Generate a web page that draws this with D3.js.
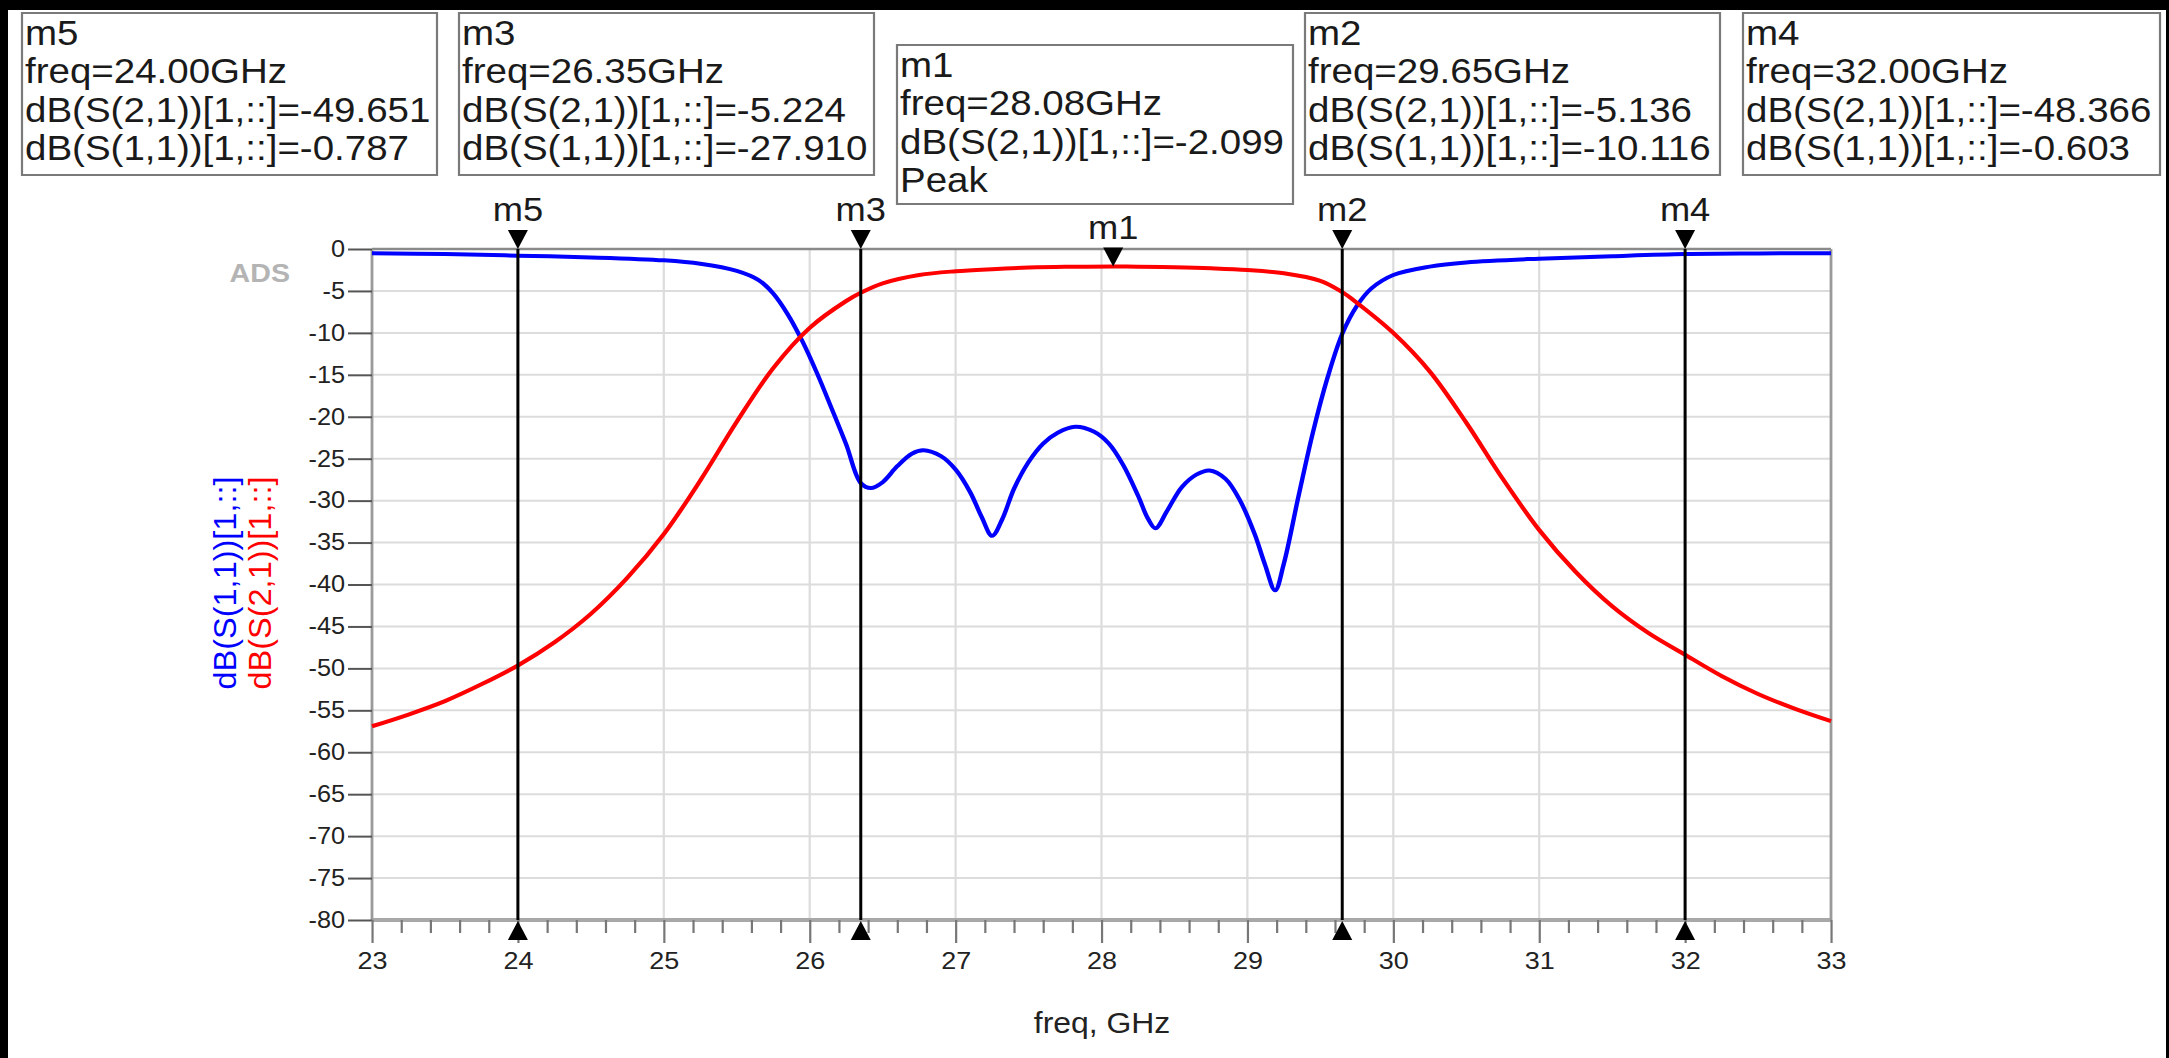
<!DOCTYPE html>
<html>
<head>
<meta charset="utf-8">
<script src="https://cdn.jsdelivr.net/npm/d3@7"></script>
<style>
html,body{margin:0;padding:0;background:#000;overflow:hidden}
svg{display:block}
text{font-family:"Liberation Sans",Arial,Helvetica,sans-serif}
</style>
</head>
<body>
<script>
// S(2,1) trace, red
const s21Freq = [23.0,23.25,23.5,23.75,24.0,24.25,24.5,24.75,25.0,25.25,25.5,25.75,26.0,26.25,26.35,26.5,26.75,27.0,27.25,27.5,27.75,28.08,28.25,28.5,28.75,29.0,29.25,29.5,29.65,29.75,30.0,30.25,30.5,30.75,31.0,31.25,31.5,31.75,32.0,32.25,32.5,32.75,33.0];
const s21dB = [-56.9,-55.5,-53.9,-51.9,-49.65,-46.9,-43.5,-39.2,-34.0,-27.6,-20.6,-14.2,-9.4,-6.2,-5.22,-4.1,-3.1,-2.65,-2.4,-2.22,-2.13,-2.1,-2.11,-2.18,-2.3,-2.5,-2.9,-3.8,-5.14,-6.4,-10.0,-14.6,-20.7,-27.4,-33.5,-38.5,-42.6,-45.8,-48.37,-50.9,-53.05,-54.8,-56.3];

// S(1,1) trace, blue
const s11Freq = [23.0,23.5,24.0,24.5,25.0,25.25,25.5,25.65,25.75,25.85,25.95,26.05,26.15,26.25,26.35,26.42,26.5,26.6,26.7,26.78,26.9,27.0,27.1,27.18,27.25,27.32,27.4,27.5,27.6,27.7,27.82,27.95,28.05,28.15,28.25,28.32,28.37,28.45,28.55,28.65,28.74,28.85,28.95,29.05,29.12,29.19,29.25,29.35,29.45,29.55,29.65,29.75,29.85,30.0,30.25,30.5,31.0,31.5,32.0,32.5,33.0];
const s11dB = [-0.5,-0.6,-0.79,-1.0,-1.35,-1.75,-2.6,-3.7,-5.3,-7.8,-11.0,-14.8,-19.0,-23.3,-27.91,-28.5,-27.8,-25.9,-24.4,-24.0,-24.7,-26.3,-29.0,-32.0,-34.2,-32.2,-28.6,-25.4,-23.2,-21.9,-21.2,-21.8,-23.2,-25.8,-29.4,-32.2,-33.3,-31.2,-28.4,-26.9,-26.4,-27.4,-30.0,-34.0,-37.6,-40.7,-37.5,-29.5,-21.8,-15.3,-10.12,-6.8,-4.7,-3.1,-2.1,-1.6,-1.15,-0.85,-0.6,-0.53,-0.5];

// markers
const markerNames = ["m5","m3","m1","m2","m4"];
const markerFreq = [24.00,26.35,28.08,29.65,32.00];
const markerS21 = [-49.651,-5.224,-2.099,-5.136,-48.366];
const markerS11 = [-0.787,-27.910,null,-10.116,-0.603];

const xTicks = [23,24,25,26,27,28,29,30,31,32,33];
const yTicks = [0,-5,-10,-15,-20,-25,-30,-35,-40,-45,-50,-55,-60,-65,-70,-75,-80];

const W = 2169, H = 1058;
// the picture is a little wider than tall in its lettering, so stretch x
const SX = 1.1;
const X = v => v / SX;

// readout box layout (screen px)
const boxLeft = [22,459,897,1305,1743];
const boxTop = [13,13,45,13,13];
const boxW = [415,415,396,415,417];
const boxH = [162,162,159,162,162];

const svg = d3.select("body")
  .append("svg")
  .attr("width", W)
  .attr("height", H)
  .attr("viewBox", `0 0 ${W/SX} ${H}`)
  .attr("preserveAspectRatio", "none");

svg.append("rect")
  .attr("x", X(8)).attr("y", 10)
  .attr("width", X(2166-8)).attr("height", H-10)
  .attr("fill", "#fff");

const xScale = d3.scaleLinear().domain([23,33]).range([X(372), X(1831)]);
const yScale = d3.scaleLinear().domain([0,-80]).range([249, 920]);

// grid
svg.append("g").selectAll("line")
  .data(xTicks)
  .enter().append("line")
  .attr("x1", d=>xScale(d)).attr("x2", d=>xScale(d))
  .attr("y1", yScale(0)).attr("y2", yScale(-80))
  .attr("stroke", "#dcdcdc").attr("stroke-width", 2);

svg.append("g").selectAll("line")
  .data(yTicks)
  .enter().append("line")
  .attr("x1", xScale(23)).attr("x2", xScale(33))
  .attr("y1", d=>yScale(d)).attr("y2", d=>yScale(d))
  .attr("stroke", "#dcdcdc").attr("stroke-width", 2);

// frame of the plot
svg.append("line")
  .attr("x1", xScale(23)).attr("x2", xScale(33))
  .attr("y1", yScale(0)).attr("y2", yScale(0))
  .attr("stroke", "#8a8a8a").attr("stroke-width", 2.5);
svg.append("rect")
  .attr("x", xScale(23)).attr("y", yScale(-80)-2)
  .attr("width", xScale(33)-xScale(23)).attr("height", 4)
  .attr("fill", "#a8a8a8");
[23,33].forEach(f=>{
  svg.append("line")
    .attr("x1", xScale(f)).attr("x2", xScale(f))
    .attr("y1", yScale(0)).attr("y2", yScale(-80))
    .attr("stroke", "#9a9a9a").attr("stroke-width", 2.5);
});

// axes
const yAxis = d3.axisLeft(yScale)
  .tickValues(yTicks)
  .tickSize(X(24))
  .tickPadding(X(3))
  .tickFormat(d => String(d));

const yg = svg.append("g")
  .attr("transform", "translate(" + xScale(23) + ",0)")
  .call(yAxis);
yg.select(".domain").remove();
yg.selectAll("line").attr("stroke", "#555").attr("stroke-width", 2);
yg.selectAll("text").attr("font-size", 23).attr("fill", "#222")
  .attr("font-family", "Liberation Sans, Arial, sans-serif");

const xAxis = d3.axisBottom(xScale)
  .tickValues(xTicks)
  .tickSize(23)
  .tickPadding(9)
  .tickFormat(d => String(d));

const minorTicks = xScale.ticks(50).filter(d => !xTicks.includes(Math.round(d*10)/10));

const xgMinor = svg.append("g")
  .attr("transform", "translate(0," + yScale(-80) + ")")
  .call(d3.axisBottom(xScale).tickValues(minorTicks).tickSize(13).tickFormat(""));
xgMinor.select(".domain").remove();
xgMinor.selectAll("line").attr("stroke", "#777").attr("stroke-width", 2);

const xg = svg.append("g")
  .attr("transform", "translate(0," + yScale(-80) + ")")
  .call(xAxis);
xg.select(".domain").remove();
xg.selectAll("line").attr("stroke", "#777").attr("stroke-width", 2);
xg.selectAll("text").attr("font-size", 24.5).attr("fill", "#222")
  .attr("font-family", "Liberation Sans, Arial, sans-serif");

// axis titles
svg.append("text")
  .attr("x", X(1102)).attr("y", 1033)
  .attr("text-anchor", "middle")
  .attr("font-size", 29).attr("fill", "#222")
  .text("freq, GHz");

svg.append("text")
  .attr("transform", "translate(" + X(236) + ",583) rotate(-90)")
  .attr("text-anchor", "middle")
  .attr("font-size", 28).attr("fill", "#0000ff")
  .attr("textLength", 213).attr("lengthAdjust", "spacingAndGlyphs")
  .text("dB(S(1,1))[1,::]");

svg.append("text")
  .attr("transform", "translate(" + X(271) + ",583) rotate(-90)")
  .attr("text-anchor", "middle")
  .attr("font-size", 28).attr("fill", "#ff0000")
  .attr("textLength", 213).attr("lengthAdjust", "spacingAndGlyphs")
  .text("dB(S(2,1))[1,::]");

svg.append("text")
  .attr("x", X(290)).attr("y", 282)
  .attr("text-anchor", "end")
  .attr("font-size", 26).attr("font-weight", "bold")
  .attr("fill", "#b4b4b4")
  .text("ADS");

// traces
const line = d3.line()
  .x(d=>xScale(d[0]))
  .y(d=>yScale(d[1]))
  .curve(d3.curveCatmullRom.alpha(0.5));

svg.append("path")
  .datum(s11Freq.map((f,i)=>[f, s11dB[i]]))
  .attr("d", line)
  .attr("fill", "none")
  .attr("stroke", "#0000ff")
  .attr("stroke-width", 4);

svg.append("path")
  .datum(s21Freq.map((f,i)=>[f, s21dB[i]]))
  .attr("d", line)
  .attr("fill", "none")
  .attr("stroke", "#ff0000")
  .attr("stroke-width", 4);

// markers
const tw = X(10), th = 19;
markerNames.forEach((name,i)=>{
  const x = xScale(markerFreq[i]);
  let tip;
  if (markerS11[i] !== null) {
    tip = yScale(0);
    svg.append("line")
      .attr("x1", x).attr("x2", x)
      .attr("y1", yScale(0)).attr("y2", yScale(-80))
      .attr("stroke", "#000").attr("stroke-width", X(3));
    const yb = yScale(-80);
    svg.append("path")
      .attr("d", `M${x-tw},${yb+th+1}L${x+tw},${yb+th+1}L${x},${yb+1}Z`)
      .attr("fill", "#000");
  } else {
    tip = yScale(markerS21[i]);
  }
  svg.append("path")
    .attr("d", `M${x-tw},${tip-th}L${x+tw},${tip-th}L${x},${tip}Z`)
    .attr("fill", "#000");
  svg.append("text")
    .attr("x", x).attr("y", tip-th-9)
    .attr("text-anchor", "middle")
    .attr("font-size", 33).attr("fill", "#1a1a1a")
    .text(name);
});

// readout boxes
markerNames.forEach((name,i)=>{
  const g = svg.append("g");
  g.append("rect")
    .attr("x", X(boxLeft[i])).attr("y", boxTop[i])
    .attr("width", X(boxW[i])).attr("height", boxH[i])
    .attr("fill", "#fff")
    .attr("stroke", "#7a7a7a").attr("stroke-width", 2);
  const lines = [name, "freq=" + markerFreq[i].toFixed(2) + "GHz",
    "dB(S(2,1))[1,::]=" + markerS21[i].toFixed(3)];
  lines.push(markerS11[i] === null ? "Peak" : "dB(S(1,1))[1,::]=" + markerS11[i].toFixed(3));
  g.selectAll("text")
    .data(lines)
    .enter().append("text")
    .attr("x", X(boxLeft[i]+3))
    .attr("y", (d,j)=>boxTop[i]+32+j*38.5)
    .attr("font-size", 35)
    .attr("fill", "#1a1a1a")
    .text(d=>d);
});
</script>
</body>
</html>
